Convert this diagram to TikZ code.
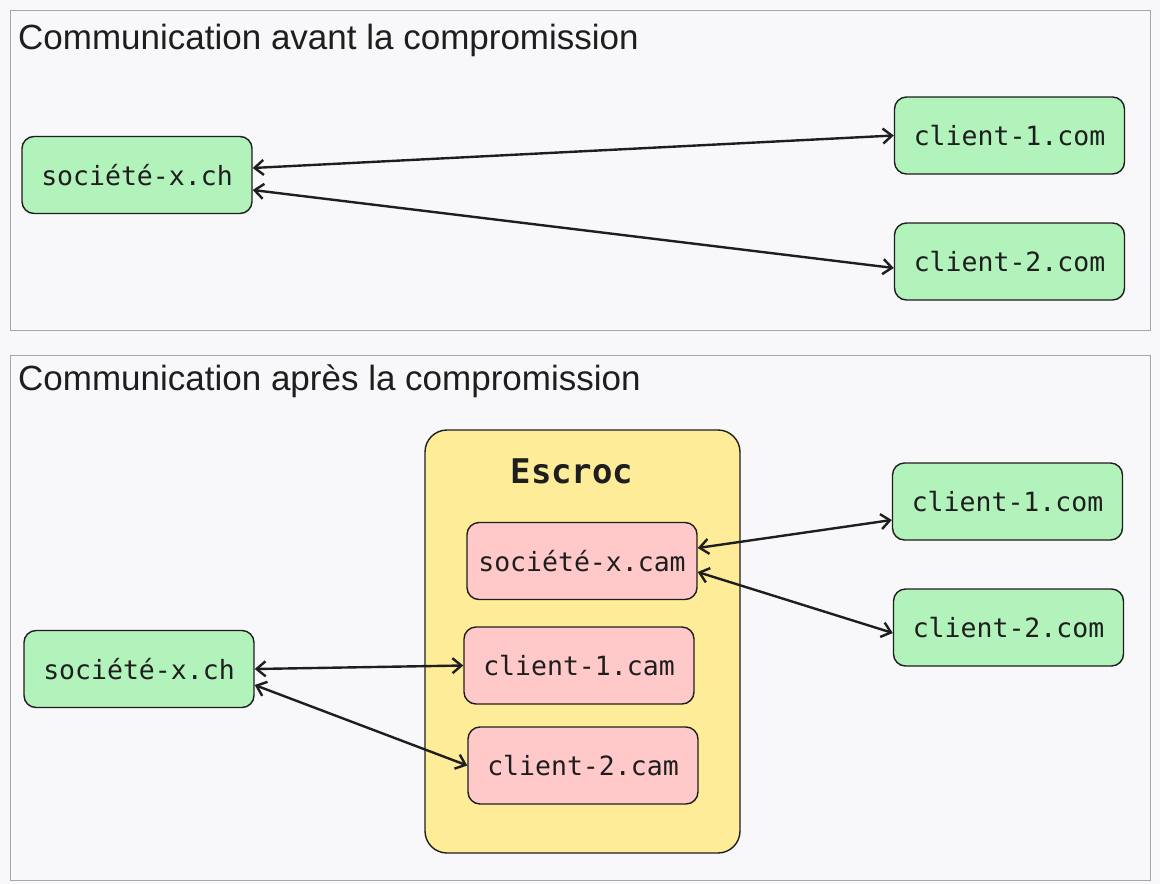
\documentclass[tikz,border=0pt]{standalone}
\usepackage{fontspec}
\setmainfont{Liberation Sans}
\newfontfamily\monof{DejaVu Sans Mono}
\usetikzlibrary{arrows.meta}
\definecolor{bg}{HTML}{F8F8FA}
\definecolor{gfill}{HTML}{B2F2BB}
\definecolor{rfill}{HTML}{FFC9C9}
\definecolor{yfill}{HTML}{FFEC99}
\definecolor{ink}{HTML}{1E1E1E}
\begin{document}
\begin{tikzpicture}[x=1pt,y=-1pt,
 box/.style={draw=ink,line width=1.4pt,rounded corners=12pt,minimum width=230pt,minimum height=77pt,font=\monof\fontsize{26.5}{30}\selectfont,text=ink,inner sep=0pt},
 g/.style={box,fill=gfill},
 r/.style={box,fill=rfill},
 panel/.style={draw=gray!70,fill=bg,line width=0.8pt},
 title/.style={anchor=base west,font=\fontsize{35}{40}\selectfont,text=ink,inner sep=0pt},
 arr/.style={draw=ink,line width=2.4pt,{Straight Barb[length=9pt,width=15pt]}-{Straight Barb[length=9pt,width=15pt]}}]
\useasboundingbox (0,0) rectangle (1160,884);
\fill[bg] (0,0) rectangle (1160,884);
\draw[panel] (10,10) rectangle (1150,330);
\draw[panel] (10,355) rectangle (1150,880);
\node[title] (t1) at (18,49) {Communication avant la compromission};
\node[title] (t2) at (18,390) {Communication après la compromission};
% top
\node[g] (s1) at (137,175) {société-x.ch};
\node[g] (c1) at (1009.5,135.5) {client-1.com};
\node[g] (c2) at (1009.5,261.5) {client-2.com};
\draw[arr] (s1.east) ++(0,-7) coordinate (p1) (p1) -- (c1.west);
\draw[arr] (s1.east) ++(0,15) coordinate (p2) (p2) -- (c2.west |- 0,268);
% bottom
\node[draw=ink,line width=1.4pt,fill=yfill,rounded corners=22pt,minimum width=315pt,minimum height=423pt,inner sep=0pt] (esc) at (582.5,641.5) {};
\node[font=\monof\bfseries\fontsize{34}{38}\selectfont,text=ink] (et) at (572,471) {Escroc};
\node[g] (s2) at (139,669) {société-x.ch};
\node[r] (sc) at (582,561) {société-x.cam};
\node[r] (c1c) at (579,665.5) {client-1.cam};
\node[r] (c2c) at (583,765.5) {client-2.cam};
\node[g] (c1b) at (1007.5,501.5) {client-1.com};
\node[g] (c2b) at (1008.5,627.5) {client-2.com};
\draw[arr] (s2.east) -- (c1c.west);
\draw[arr] (s2.east) ++(0,16) coordinate (p3) (p3) -- (c2c.west);
\draw[arr] (sc.east) ++(0,-13) coordinate (p4) (p4) -- (c1b.west |- 0,520);
\draw[arr] (sc.east) ++(0,11) coordinate (p5) (p5) -- (c2b.west |- 0,633);
\end{tikzpicture}
\end{document}
